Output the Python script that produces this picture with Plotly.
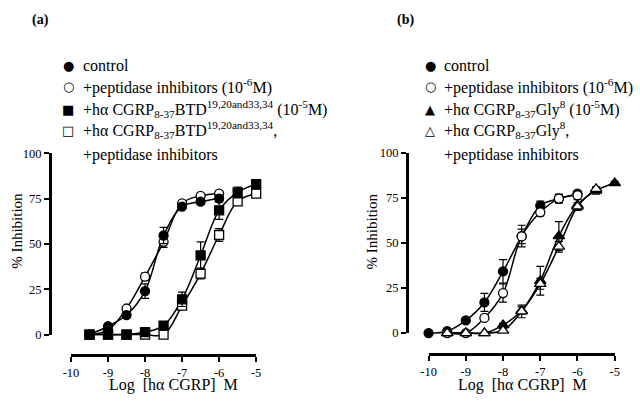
import plotly.graph_objects as go

# ---------------- data ----------------
# Panel (a)
a_x_circ = [-9.5, -9, -8.5, -8, -7.5, -7, -6.5, -6]
a_control = [0, 4.6, 10.8, 24, 54.7, 70.7, 73.4, 75.1]
a_control_err = [0, 1, 1.5, 4, 4.5, 1.5, 1.5, 2]
a_pi = [0, 2.5, 14.4, 32, 51.2, 72.5, 76.6, 77.8]
a_pi_err = [0, 0.5, 1, 2, 3, 1, 1, 1.5]
a_x_sq = [-9.5, -9, -8.5, -8, -7.5, -7, -6.5, -6, -5.5, -5]
a_btd = [0, 0, 0, 1.4, 5, 19.5, 43.7, 68.6, 78.5, 83]
a_btd_err = [0, 0, 0, 0.5, 1, 4, 7.5, 5, 3, 2]
a_btd_pi = [0, 0, 0, 0, 0, 16, 33.7, 55, 73.6, 77.8]
a_btd_pi_err = [0, 0, 0, 0, 0, 2, 3, 3.5, 2, 1]

# Panel (b)
b_x_ctrl = [-10, -9.5, -9, -8.5, -8, -7.5, -7, -6.5, -6]
b_control = [0, 1, 7, 17, 34.2, 53.8, 70.7, 74.6, 77.3]
b_control_err = [0, 0.5, 1, 5, 6.5, 6, 2.5, 2, 1.5]
b_x_pi = [-9.5, -9, -8.5, -8, -7.5, -7, -6.5, -6]
b_pi = [0, 0, 8.4, 22.2, 53.6, 67, 74.6, 76.4]
b_pi_err = [0, 0, 1, 5, 4, 2, 2.5, 1]
b_x_gly = [-9.5, -9, -8.5, -8, -7.5, -7, -6.5, -6, -5.5, -5]
b_gly = [0, 0, 0, 4.4, 12.5, 29, 53.8, 71, 79, 83.2]
b_gly_err = [0, 0, 0, 1, 2, 8, 8, 3, 2, 1]
b_x_gly_pi = [-9.5, -9, -8.5, -8, -7.5, -7, -6.5, -6, -5.5]
b_gly_pi = [0, 0, 0, 1.4, 12, 27.3, 47.9, 70.2, 80]
b_gly_pi_err = [0, 0, 0, 1, 3.5, 3, 3, 2, 1]

x_tickvals = [-10, -9, -8, -7, -6, -5]
x_ticktext = ["-10", "-9", "-8", "-7", "-6", "-5"]
y_tickvals = [0, 25, 50, 75, 100]
y_ticktext = ["0", "25", "50", "75", "100"]

legend_a = [
    ("●", "control"),
    ("○", "+peptidase inhibitors (10<sup>-6</sup>M)"),
    ("■", "+hα CGRP<sub>8-37</sub>BTD<sup>19,20and33,34</sup> (10<sup>-5</sup>M)"),
    ("□", "+hα CGRP<sub>8-37</sub>BTD<sup>19,20and33,34</sup>,"),
]
legend_b = [
    ("●", "control"),
    ("○", "+peptidase inhibitors (10<sup>-6</sup>M)"),
    ("▲", "+hα CGRP<sub>8-37</sub>Gly<sup>8</sup> (10<sup>-5</sup>M)"),
    ("△", "+hα CGRP<sub>8-37</sub>Gly<sup>8</sup>,"),
]
legend_extra = "+peptidase inhibitors"

# ---------------- figure ----------------
W, H = 640, 406
SERIF = "Liberation Serif, Times New Roman, serif"
fig = go.Figure()


def fx(p):
    return min(max(p / W, 0.0), 1.0)


def fy(p):
    return min(max(1 - p / H, 0.0), 1.0)


# pixel calibration of each panel
PANELS = {
    "a": dict(x0=64.3, x1=253.3, y0=339.3, y1=151.7, xline=359.0, yline=45.0),
    "b": dict(x0=429.3, x1=619.3, y0=337.7, y1=151.0, xline=358.3, yline=409.3),
}
XR = (-10.0, -5.0)
YR = (0.0, 100.0)
PADPX = 16.0

layout_axes = {}
ids = {"a": (1, 3, 4), "b": (2, 5, 6)}
tickfont = dict(family=SERIF, size=12.5, color="black")
deco = dict(showgrid=False, zeroline=False, showline=True, linecolor="#000000",
            linewidth=3, ticks="outside", ticklen=5, tickwidth=2, tickcolor="#000000",
            tickfont=tickfont, fixedrange=True, layer="above traces", mirror=False)
hidden = dict(visible=False, fixedrange=True)


def nm(kind, i):
    return kind + ("axis" if i == 1 else "axis%d" % i)


def ref(kind, i):
    return kind + ("" if i == 1 else str(i))


for key, p in PANELS.items():
    d, xd, yd = ids[key]
    sx = (p["x1"] - p["x0"]) / (XR[1] - XR[0])
    sy = (p["y0"] - p["y1"]) / (YR[1] - YR[0])
    left = max(p["x0"] - PADPX, 0.0)
    right = min(p["x1"] + PADPX, W - 0.5)
    top = max(p["y1"] - PADPX, 0.0)
    bottom = min(p["y0"] + PADPX, H - 0.5)
    lo_x = XR[0] + (left - p["x0"]) / sx
    hi_x = XR[0] + (right - p["x0"]) / sx
    lo_y = YR[0] - (bottom - p["y0"]) / sy
    hi_y = YR[0] + (p["y0"] - top) / sy
    layout_axes[nm("x", d)] = dict(range=[lo_x, hi_x], anchor=ref("y", d),
                                   domain=[left / W, right / W], **hidden)
    layout_axes[nm("y", d)] = dict(range=[lo_y, hi_y], anchor=ref("x", d),
                                   domain=[1 - bottom / H, 1 - top / H], **hidden)
    layout_axes[nm("x", xd)] = dict(range=list(XR), anchor=ref("y", xd),
                                    domain=[fx(p["x0"]), fx(p["x1"])],
                                    tickvals=x_tickvals, ticktext=x_ticktext, **deco)
    layout_axes[nm("y", xd)] = dict(range=[0, 1], anchor=ref("x", xd),
                                    domain=[fy(p["xline"]), fy(p["xline"]) + 0.002], **hidden)
    layout_axes[nm("y", yd)] = dict(range=list(YR), anchor=ref("x", yd),
                                    domain=[fy(p["y0"]), fy(p["y1"])],
                                    tickvals=y_tickvals, ticktext=y_ticktext, **deco)
    layout_axes[nm("x", yd)] = dict(range=[0, 1], anchor=ref("y", yd),
                                    domain=[fx(p["yline"]), fx(p["yline"]) + 0.002], **hidden)
    for a in (xd, yd):
        fig.add_trace(go.Scatter(x=[None], y=[None], xaxis=ref("x", a), yaxis=ref("y", a),
                                 mode="markers", showlegend=False, hoverinfo="skip"))


def add_series(x, y, err, panel, symbol, filled):
    d = ids[panel][0]
    fig.add_trace(go.Scatter(
        x=x, y=y, xaxis=ref("x", d), yaxis=ref("y", d), mode="lines",
        line=dict(color="black", width=1.5, shape="spline", smoothing=1.0),
        showlegend=False, hoverinfo="skip"))
    return dict(x=x, y=y, err=err, d=d, symbol=symbol, filled=filled)


def add_markers(s):
    fig.add_trace(go.Scatter(
        x=s["x"], y=s["y"], xaxis=ref("x", s["d"]), yaxis=ref("y", s["d"]), mode="markers",
        marker=dict(symbol=s["symbol"], size=10 if "triangle" in s["symbol"] else 9,
                    color="black" if s["filled"] else "white",
                    line=dict(color="black", width=1.3)),
        error_y=dict(type="data", array=s["err"], visible=True, color="black",
                     thickness=1.2, width=4),
        showlegend=False, cliponaxis=False))


sa = [
    add_series(a_x_circ, a_pi, a_pi_err, "a", "circle", False),
    add_series(a_x_circ, a_control, a_control_err, "a", "circle", True),
    add_series(a_x_sq, a_btd_pi, a_btd_pi_err, "a", "square", False),
    add_series(a_x_sq, a_btd, a_btd_err, "a", "square", True),
]
sb = [
    add_series(b_x_ctrl, b_control, b_control_err, "b", "circle", True),
    add_series(b_x_pi, b_pi, b_pi_err, "b", "circle", False),
    add_series(b_x_gly, b_gly, b_gly_err, "b", "triangle-up", True),
    add_series(b_x_gly_pi, b_gly_pi, b_gly_pi_err, "b", "triangle-up", False),
]
for s in sa + sb:
    add_markers(s)

fig.update_layout(width=W, height=H, margin=dict(l=0, r=0, t=0, b=0),
                  paper_bgcolor="white", plot_bgcolor="rgba(0,0,0,0)", showlegend=False,
                  **layout_axes)

ann = []


def text(xp, yp, t, size=16, xanchor="left", angle=0, family=SERIF):
    ann.append(dict(x=fx(xp), y=fy(yp), xref="paper", yref="paper", text=t,
                    showarrow=False, xanchor=xanchor, yanchor="middle", textangle=angle,
                    font=dict(family=family, size=size, color="black")))


text(33, 13, "<b>(a)</b>", size=14, xanchor="center")
text(405.7, 13, "<b>(b)</b>", size=14, xanchor="center")
text(169, 391, "Log  [hα CGRP]  M", size=16, xanchor="center")
text(525, 391, "Log  [hα CGRP]  M", size=16, xanchor="center")
text(9, 232, "% Inhibition", size=15, xanchor="center", angle=-90)
text(372, 232, "% Inhibition", size=15, xanchor="center", angle=-90)

rows = [60.7, 82.3, 106, 127.7]
for (sym, lab), yy in zip(legend_a, rows):
    text(61.7, yy, sym, size=13, xanchor="center", family="DejaVu Sans")
    text(75, yy, lab, size=16)
text(75, 153.3, legend_extra, size=16)
for (sym, lab), yy in zip(legend_b, rows):
    text(431, yy, sym, size=13, xanchor="center", family="DejaVu Sans")
    text(443.3, yy, lab, size=16)
text(443.3, 153.3, legend_extra, size=16)

fig.update_layout(annotations=ann)
fig.write_html("out.html", config={"displayModeBar": False},
               post_script="document.body.style.margin='0';document.body.style.overflow='hidden';")
